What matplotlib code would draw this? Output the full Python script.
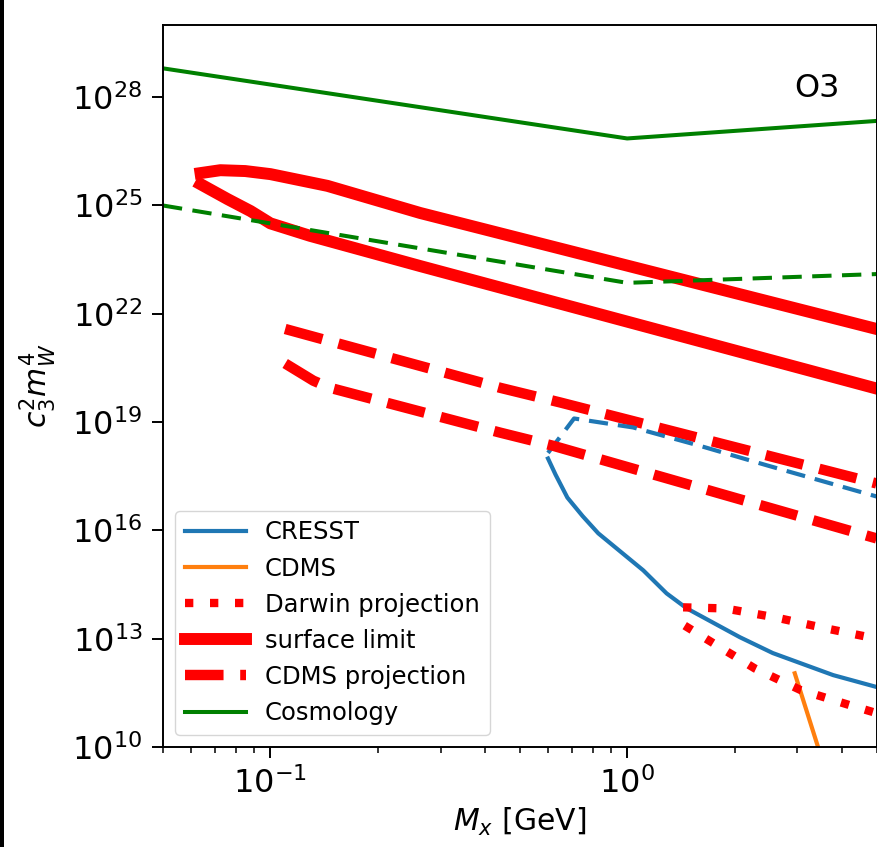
import matplotlib
matplotlib.use("Agg")
import matplotlib.pyplot as plt
import matplotlib.patches as patches
from matplotlib.ticker import NullLocator

# CRESST limit (solid) and projection (dashed)
cresst_x = [0.60, 0.63, 0.68, 0.75, 0.83, 1.11, 1.29, 1.47, 2.07, 2.56, 3.78, 5.0]
cresst_y = [9.8e17, 3.5e17, 8.1e16, 2.5e16, 8.3e15, 7.8e14, 1.8e14, 6.9e13, 1.1e13, 4.0e12, 9.8e11, 4.6e11]
cresst_proj_x = [0.60, 0.71, 1.04, 1.60, 2.47, 5.0]
cresst_proj_y = [1.4e18, 1.26e19, 7.1e18, 2.2e18, 6.3e17, 8.7e16]

# CDMS
cdms_x = [2.95, 3.69]
cdms_y = [1.1e12, 1.0e9]

# Darwin projection, two branches
darwin_up_x = [1.435, 1.88, 2.60, 3.59, 5.0]
darwin_up_y = [7.4e13, 6.9e13, 3.9e13, 1.95e13, 1.0e13]
darwin_lo_x = [1.45, 1.74, 2.28, 3.06, 4.2, 5.0]
darwin_lo_y = [2.3e13, 7.6e12, 1.5e12, 3.8e11, 1.45e11, 8.7e10]

# surface limit, two branches
surf_up_x = [0.0637, 0.0724, 0.085, 0.1, 0.1445, 0.263, 5.0]
surf_up_y = [7.9e25, 9.5e25, 9.0e25, 7.4e25, 3.5e25, 6.2e24, 3.8e21]
surf_lo_x = [0.0637, 0.0759, 0.088, 0.1, 0.129, 0.263, 5.0]
surf_lo_y = [3.9e25, 1.5e25, 7.0e24, 3.2e24, 1.45e24, 2.1e23, 8.5e19]

# CDMS projection, two branches
cdmsp_up_x = [0.110, 0.441, 0.649, 5.0]
cdmsp_up_y = [3.8e21, 8.9e19, 3.5e19, 2.0e17]
cdmsp_lo_x = [0.110, 0.132, 0.147, 0.441, 0.621, 5.0]
cdmsp_lo_y = [4.2e20, 1.4e20, 8.9e19, 5.1e18, 2.2e18, 6.0e15]

# Cosmology (solid) and dashed
cosmo_x = [0.05, 1.0, 5.0]
cosmo_y = [6.3e28, 7.2e26, 2.2e27]
cosmo_d_x = [0.05, 1.0, 5.0]
cosmo_d_y = [1.0e25, 7.2e22, 1.26e23]

yticks = [1e10, 1e13, 1e16, 1e19, 1e22, 1e25, 1e28]

fig = plt.figure(figsize=(8.77, 8.47), dpi=100)
ax = fig.add_axes([163 / 877, 100 / 847, 713.5 / 877, 722 / 847])

ax.plot(cresst_x, cresst_y, color='#1f77b4', lw=3.0, label='CRESST')
ax.plot(cdms_x, cdms_y, color='#ff7f0e', lw=3.0, label='CDMS')
ax.plot(darwin_up_x, darwin_up_y, color='red', lw=6.0, ls=(0, (1, 2.0)),
        label='Darwin projection')
ax.plot(surf_up_x, surf_up_y, color='red', lw=8.6, label='surface limit')
ax.plot(cdmsp_up_x, cdmsp_up_y, color='red', lw=7.5, ls='--', label='CDMS projection')
ax.plot(cosmo_x, cosmo_y, color='green', lw=2.9, label='Cosmology')

ax.plot(cresst_proj_x, cresst_proj_y, color='#1f77b4', lw=3.0, ls=(0, (4.6, 2.4)))
ax.plot(darwin_lo_x, darwin_lo_y, color='red', lw=6.0, ls=(0, (1, 2.0)))
ax.plot(surf_lo_x, surf_lo_y, color='red', lw=8.6)
ax.plot(cdmsp_lo_x, cdmsp_lo_y, color='red', lw=7.5, ls='--')
ax.plot(cosmo_d_x, cosmo_d_y, color='green', lw=2.9, ls=(0, (4.8, 2.6)))

ax.set_xscale('log')
ax.set_yscale('log')
ax.set_xlim(0.05, 5)
ax.set_ylim(1e10, 1e30)
ax.set_yticks(yticks)
ax.yaxis.set_minor_locator(NullLocator())

ax.tick_params(which='major', labelsize=23, length=7.9, width=1.4, pad=7)
ax.tick_params(which='minor', length=4.5, width=1.1)
for s in ax.spines.values():
    s.set_linewidth(1.4)

ax.set_xlabel('$M_x$ [GeV]', fontsize=21.5)
ax.set_ylabel('$c_3^2 m_W^4$', fontsize=21.5, labelpad=10)
ax.text(0.885, 0.9, 'O3', transform=ax.transAxes, fontsize=23)

ax.legend(loc='lower left', fontsize=17.5, handlelength=2.5)

# thin dark strip on the left edge of the picture
fig.patches.append(patches.Rectangle((0, 0), 3.5 / 877, 1, transform=fig.transFigure,
                                     facecolor='black', edgecolor='none'))

fig.savefig('out.png', dpi=100)
